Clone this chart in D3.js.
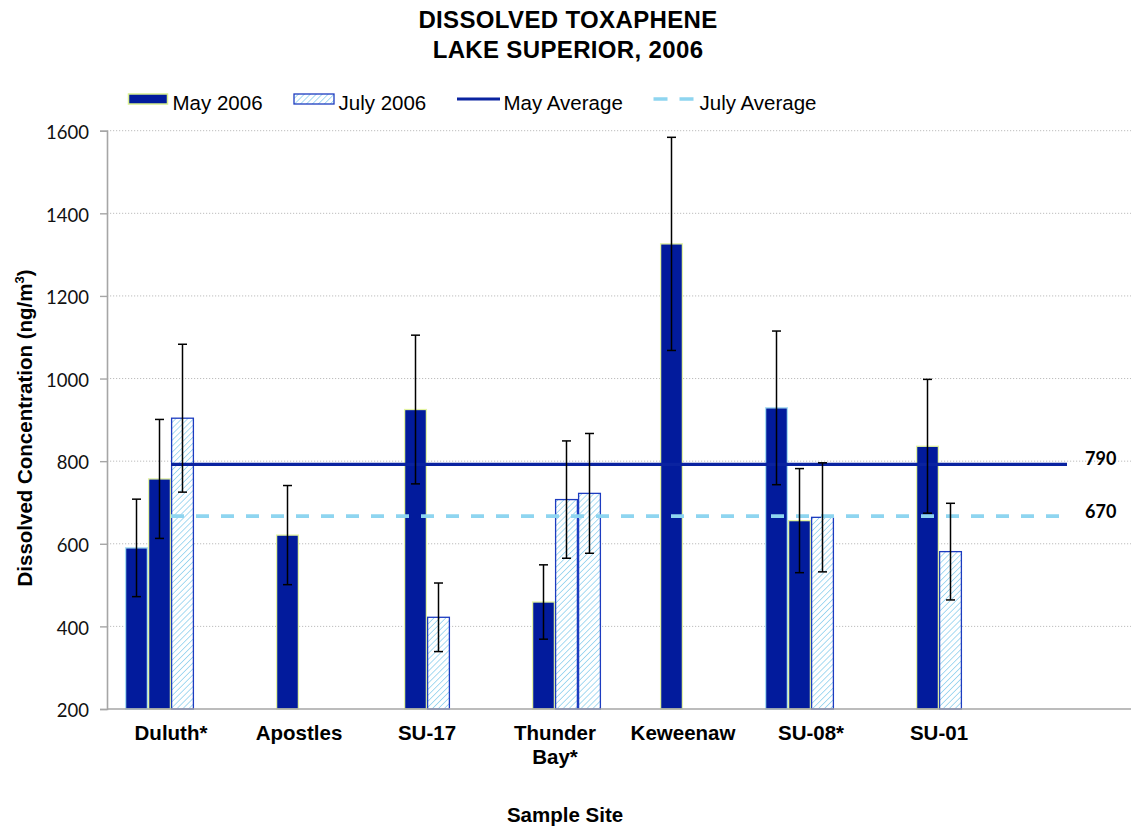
<!DOCTYPE html>
<html>
<head>
<meta charset="utf-8">
<script src="https://cdn.jsdelivr.net/npm/d3@7"></script>
<style>
  html, body { margin: 0; padding: 0; background: #fff; }
  svg { display: block; }
</style>
</head>
<body>
<svg id="chart" width="1135" height="827"></svg>
<script>
// ---------------- DATA ----------------
const categories = ["Duluth*", "Apostles", "SU-17", "Thunder\nBay*", "Keweenaw", "SU-08*", "SU-01", ""];
// four bar slots per site: two May samples, two July samples
const may1     = [590, null, null, null, null, 929, null, null];
const may1Err  = [118, null, null, null, null, 186, null, null];
const may2     = [757, 621, 925, 459, 1326, 656, 836, null];
const may2Err  = [144, 120, 180, 90, 258, 126, 162, null];
const july1    = [904, null, 422, 707, null, 664, 581, null];
const july1Err = [179, null, 83, 142, null, 132, 117, null];
const july2    = [null, null, null, 722, null, null, null, null];
const july2Err = [null, null, null, 145, null, null, null, null];
const mayAverage = 792;
const julyAverage = 667;
const averageLabels = ["790", "670"];
const yTicks = [200, 400, 600, 800, 1000, 1200, 1400, 1600];
const legendLabels = ["May 2006", "July 2006", "May Average", "July Average"];
const titleLines = ["DISSOLVED TOXAPHENE", "LAKE SUPERIOR, 2006"];
const yTitle = "Dissolved Concentration (ng/m";
const xTitle = "Sample Site";

// ---------------- LAYOUT ----------------
const svg = d3.select("#chart");
const plot = { left: 107, right: 1131, top: 130.7, bottom: 709 };
const NAVY = "#021b9c";
const JULY_LINE = "#8ed5f0";
const HATCH = "#93d2ef";
const JULY_BORDER = "#1d3cc0";

const defs = svg.append("defs");
const pat = defs.append("pattern").attr("id", "hatch")
  .attr("patternUnits", "userSpaceOnUse").attr("width", 4.2).attr("height", 4.2)
  .attr("patternTransform", "rotate(45)");
pat.append("rect").attr("width", 4.2).attr("height", 4.2).attr("fill", "#fff");
pat.append("line").attr("x1", 0).attr("y1", 0).attr("x2", 0).attr("y2", 4.2)
  .attr("stroke", HATCH).attr("stroke-width", 1.6);

const x = d3.scaleBand().domain(d3.range(categories.length))
  .range([plot.left, plot.right]).paddingInner(0).paddingOuter(0);
const slot = d3.scaleBand().domain([0, 1, 2, 3]).range([0, x.bandwidth()])
  .paddingInner(0).paddingOuter(0.783);
const y = d3.scaleLinear().domain([200, 1600]).range([plot.bottom, plot.top]);

// gridlines
svg.append("g").selectAll("line").data(yTicks.filter(t => t > 200)).join("line")
  .attr("x1", plot.left).attr("x2", plot.right)
  .attr("y1", d => y(d)).attr("y2", d => y(d))
  .attr("stroke", "#bdbdbd").attr("stroke-width", 1).attr("stroke-dasharray", "1.2,1.8");

// y axis
const yAxis = svg.append("g").attr("transform", `translate(${plot.left},0)`)
  .call(d3.axisLeft(y).tickValues(yTicks).tickSize(7).tickPadding(11).tickFormat(d3.format("d")));
yAxis.select(".domain").attr("stroke", "#a6a6a6").attr("stroke-width", 1.6);
yAxis.selectAll(".tick line").attr("stroke", "#a6a6a6").attr("stroke-width", 1.4);
yAxis.selectAll(".tick text").attr("font-family", "Lato, 'DejaVu Sans', sans-serif")
  .attr("font-size", 18.5).attr("fill", "#111").attr("dy", "0.42em");

// bars
const series = [
  { vals: may1, errs: may1Err, slot: 0, fill: NAVY, stroke: "#a6dcf2" },
  { vals: may2, errs: may2Err, slot: 1, fill: NAVY, stroke: "#e3f3a2" },
  { vals: july1, errs: july1Err, slot: 2, fill: "url(#hatch)", stroke: JULY_BORDER },
  { vals: july2, errs: july2Err, slot: 3, fill: "url(#hatch)", stroke: JULY_BORDER }
];
const barData = [];
series.forEach(s => s.vals.forEach((v, i) => {
  if (v != null) barData.push({ i, v, e: s.errs[i], slot: s.slot, fill: s.fill, stroke: s.stroke });
}));

svg.append("g").selectAll("rect").data(barData).join("rect")
  .attr("x", d => x(d.i) + slot(d.slot) + 0.6)
  .attr("width", slot.bandwidth() - 1.2)
  .attr("y", d => y(d.v))
  .attr("height", d => y(200) - y(d.v))
  .attr("fill", d => d.fill)
  .attr("stroke", d => d.stroke)
  .attr("stroke-width", 1.3);

// x axis line
svg.append("line").attr("x1", plot.left).attr("x2", plot.right)
  .attr("y1", y(200)).attr("y2", y(200))
  .attr("stroke", "#a6a6a6").attr("stroke-width", 1.6);

// average lines
const lineX0 = x(0) + x.bandwidth() / 2;
const lineX1 = x(categories.length - 1) + x.bandwidth() / 2;
svg.append("line").attr("x1", lineX0).attr("x2", lineX1)
  .attr("y1", y(mayAverage)).attr("y2", y(mayAverage))
  .attr("stroke", "#0a23a0").attr("stroke-width", 3.2);
svg.append("line").attr("x1", lineX0).attr("x2", lineX1)
  .attr("y1", y(julyAverage)).attr("y2", y(julyAverage))
  .attr("stroke", JULY_LINE).attr("stroke-width", 3.6).attr("stroke-dasharray", "13,12");

// error bars
const eg = svg.append("g").attr("stroke", "#000").attr("stroke-width", 1.5);
barData.forEach(d => {
  const cx = x(d.i) + slot(d.slot) + slot.bandwidth() / 2;
  const y1 = y(d.v + d.e), y2 = y(d.v - d.e);
  eg.append("line").attr("x1", cx).attr("x2", cx).attr("y1", y1).attr("y2", y2);
  eg.append("line").attr("x1", cx - 4.5).attr("x2", cx + 4.5).attr("y1", y1).attr("y2", y1);
  eg.append("line").attr("x1", cx - 4.5).attr("x2", cx + 4.5).attr("y1", y2).attr("y2", y2);
});

// average labels
svg.append("g").selectAll("text").data([mayAverage, julyAverage]).join("text")
  .attr("x", lineX1 + 18).attr("y", d => y(d))
  .attr("dy", (d, i) => i === 0 ? "0.05em" : "0.12em")
  .attr("font-family", "Lato, 'DejaVu Sans', sans-serif").attr("font-weight", "bold")
  .attr("font-size", 18).attr("fill", "#000")
  .text((d, i) => averageLabels[i]);

// category labels
const catG = svg.append("g").attr("font-family", "'Liberation Sans', Arial, sans-serif")
  .attr("font-weight", "bold").attr("font-size", 20.5).attr("text-anchor", "middle").attr("fill", "#000");
categories.forEach((c, i) => {
  const t = catG.append("text").attr("x", x(i) + x.bandwidth() / 2).attr("y", 740);
  c.split("\n").forEach((ln, k) => {
    t.append("tspan").attr("x", x(i) + x.bandwidth() / 2).attr("dy", k === 0 ? 0 : 24).text(ln);
  });
});

// title
svg.append("g").selectAll("text").data(titleLines).join("text")
  .attr("x", 568).attr("y", (d, i) => 27.5 + i * 30)
  .attr("text-anchor", "middle")
  .attr("font-family", "'Liberation Sans', Arial, sans-serif")
  .attr("font-weight", "bold").attr("font-size", 24).attr("letter-spacing", 0.35).attr("fill", "#000")
  .text(d => d);

// axis titles
const yt = svg.append("text")
  .attr("transform", `translate(32,428) rotate(-90)`)
  .attr("text-anchor", "middle")
  .attr("font-family", "'Liberation Sans', Arial, sans-serif")
  .attr("font-weight", "bold").attr("font-size", 20.5).attr("fill", "#000");
yt.append("tspan").text(yTitle);
yt.append("tspan").attr("font-size", 13).attr("dy", "-0.6em").text("3");
yt.append("tspan").attr("dy", "0.4em").text(")");

svg.append("text").attr("x", 565).attr("y", 822).attr("text-anchor", "middle")
  .attr("font-family", "'Liberation Sans', Arial, sans-serif")
  .attr("font-weight", "bold").attr("font-size", 20.5).attr("fill", "#000")
  .text(xTitle);

// legend
const lg = svg.append("g").attr("font-family", "'Liberation Sans', Arial, sans-serif")
  .attr("font-size", 20.5).attr("fill", "#000");
const ly = 99;
lg.append("rect").attr("x", 128.5).attr("y", ly - 5).attr("width", 39).attr("height", 10)
  .attr("fill", NAVY).attr("stroke", "#d9f08e").attr("stroke-width", 1.5);
lg.append("text").attr("x", 172.5).attr("y", ly + 11).text(legendLabels[0]);
lg.append("rect").attr("x", 294).attr("y", ly - 5).attr("width", 40).attr("height", 10)
  .attr("fill", "url(#hatch)").attr("stroke", JULY_BORDER).attr("stroke-width", 1.3);
lg.append("text").attr("x", 338.5).attr("y", ly + 11).text(legendLabels[1]);
lg.append("line").attr("x1", 457).attr("x2", 500).attr("y1", ly).attr("y2", ly)
  .attr("stroke", "#0a23a0").attr("stroke-width", 3.2);
lg.append("text").attr("x", 503.5).attr("y", ly + 11).text(legendLabels[2]);
lg.append("line").attr("x1", 653.5).attr("x2", 694).attr("y1", ly).attr("y2", ly)
  .attr("stroke", JULY_LINE).attr("stroke-width", 3.6).attr("stroke-dasharray", "14,12");
lg.append("text").attr("x", 699.5).attr("y", ly + 11).text(legendLabels[3]);
</script>
</body>
</html>
